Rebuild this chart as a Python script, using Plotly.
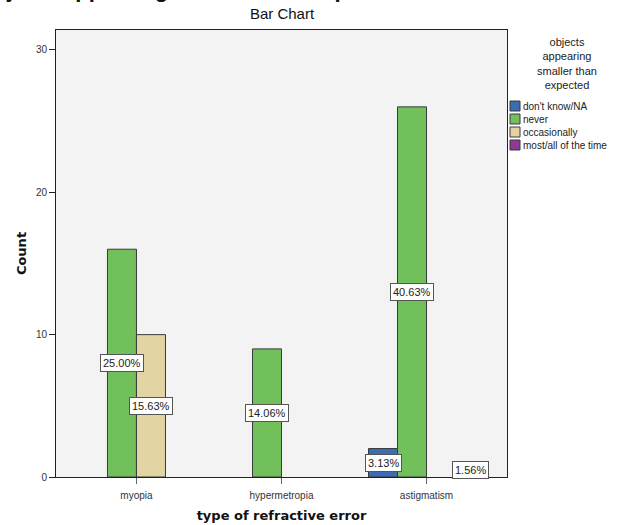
import plotly.graph_objects as go
from decimal import Decimal, ROUND_HALF_UP

# Counts of "objects appearing smaller than expected" by type of refractive error
categories = ["myopia", "hypermetropia", "astigmatism"]
series_names = ["don't know/NA", "never", "occasionally", "most/all of the time"]
series_colors = ["#3b6cb4", "#72c05b", "#e2d5a3", "#8c3a92"]
counts = {
    "don't know/NA":        [0, 0, 2],
    "never":                [16, 9, 26],
    "occasionally":         [10, 0, 0],
    "most/all of the time": [0, 0, 1],
}
y_ticks = [0, 10, 20, 30]

FONT = "Liberation Sans"
BOLD = "DejaVu Sans"
total = sum(sum(v) for v in counts.values())
x_idx = list(range(len(categories)))

fig = go.Figure()
for name, color in zip(series_names, series_colors):
    # empty cells are left out so no flat outline is drawn on the axis
    fig.add_trace(go.Bar(
        x=x_idx, y=[v if v else None for v in counts[name]], name=name,
        marker=dict(color=color, line=dict(color="#3a3a3a", width=1)),
        showlegend=False,
    ))

# percentage labels at mid-height of each non-empty bar
n = len(series_names)
bar_w = 0.8 / n
for si, name in enumerate(series_names):
    off = (si - (n - 1) / 2) * bar_w
    for ci, v in enumerate(counts[name]):
        if v == 0:
            continue
        pct = (Decimal(v) * 100 / Decimal(total)).quantize(Decimal("0.01"), rounding=ROUND_HALF_UP)
        fig.add_annotation(
            x=ci + off, y=v / 2, xref="x", yref="y",
            text=f"{pct}%", showarrow=False,
            xanchor="center", yanchor="middle",
            font=dict(family=FONT, size=11, color="#222"),
            bgcolor="white", bordercolor="#555", borderwidth=1, borderpad=2,
        )

# legend drawn at the right of the plot area
L, R, T, B = 56, 115, 30, 48
W, H = 622, 525
pw, ph = W - L - R, H - T - B
def px(x):
    return (x - L) / pw
def py(y):
    return (H - B - y) / ph

fig.add_annotation(
    x=px(567), y=py(63), xref="paper", yref="paper",
    text="objects<br>appearing<br>smaller than<br>expected",
    showarrow=False, align="center", xanchor="center", yanchor="middle",
    font=dict(family=FONT, size=11, color="#222"),
)
for i, (name, color) in enumerate(zip(series_names, series_colors)):
    yc = 106 + i * 13
    fig.add_shape(type="rect", xref="paper", yref="paper",
                  x0=px(510), x1=px(520), y0=py(yc - 5), y1=py(yc + 5),
                  fillcolor=color, line=dict(color="#3a3a3a", width=1))
    fig.add_annotation(x=px(521), y=py(yc), xref="paper", yref="paper",
                       text=name, showarrow=False, xanchor="left", yanchor="middle",
                       font=dict(family=FONT, size=10, color="#222"))

# heading above the chart, running off the top-left of the page
fig.add_annotation(
    x=px(-22), y=py(-10), xref="paper", yref="paper",
    text="<b>objects appearing smaller than expected</b>",
    showarrow=False, xanchor="left", yanchor="middle",
    font=dict(family=FONT, size=22, color="#111"),
)

fig.update_layout(
    width=W, height=H,
    margin=dict(l=L, r=R, t=T, b=B),
    barmode="group", bargap=0.2, bargroupgap=0,
    paper_bgcolor="white", plot_bgcolor="#f3f3f3",
    title=dict(text="Bar Chart", xref="paper", x=px(282), xanchor="center",
               yref="container", y=1 - 14 / H, yanchor="middle",
               font=dict(family=FONT, size=15, color="#111")),
    font=dict(family=FONT),
)
fig.update_xaxes(
    tickmode="array", tickvals=x_idx, ticktext=categories,
    range=[-0.555, 2.555], automargin=False,
    showline=True, linecolor="#222", linewidth=1, mirror=True,
    ticks="outside", ticklen=6, tickcolor="#666",
    ticklabelstandoff=3,
    tickfont=dict(family=FONT, size=10, color="#333"),
    showgrid=False, zeroline=False,
    title=dict(text="<b>type of refractive error</b>", standoff=10,
               font=dict(family=BOLD, size=13, color="#111")),
)
fig.update_yaxes(
    tickmode="array", tickvals=y_ticks,
    range=[0, 31.4], automargin=False,
    showline=True, linecolor="#222", linewidth=1, mirror=True,
    ticks="outside", ticklen=6, tickcolor="#222",
    tickfont=dict(family=FONT, size=10, color="#333"),
    showgrid=False, zeroline=False,
    title=dict(text="<b>Count</b>", standoff=6,
               font=dict(family=BOLD, size=13, color="#111")),
)

fig.write_html("out.html")
